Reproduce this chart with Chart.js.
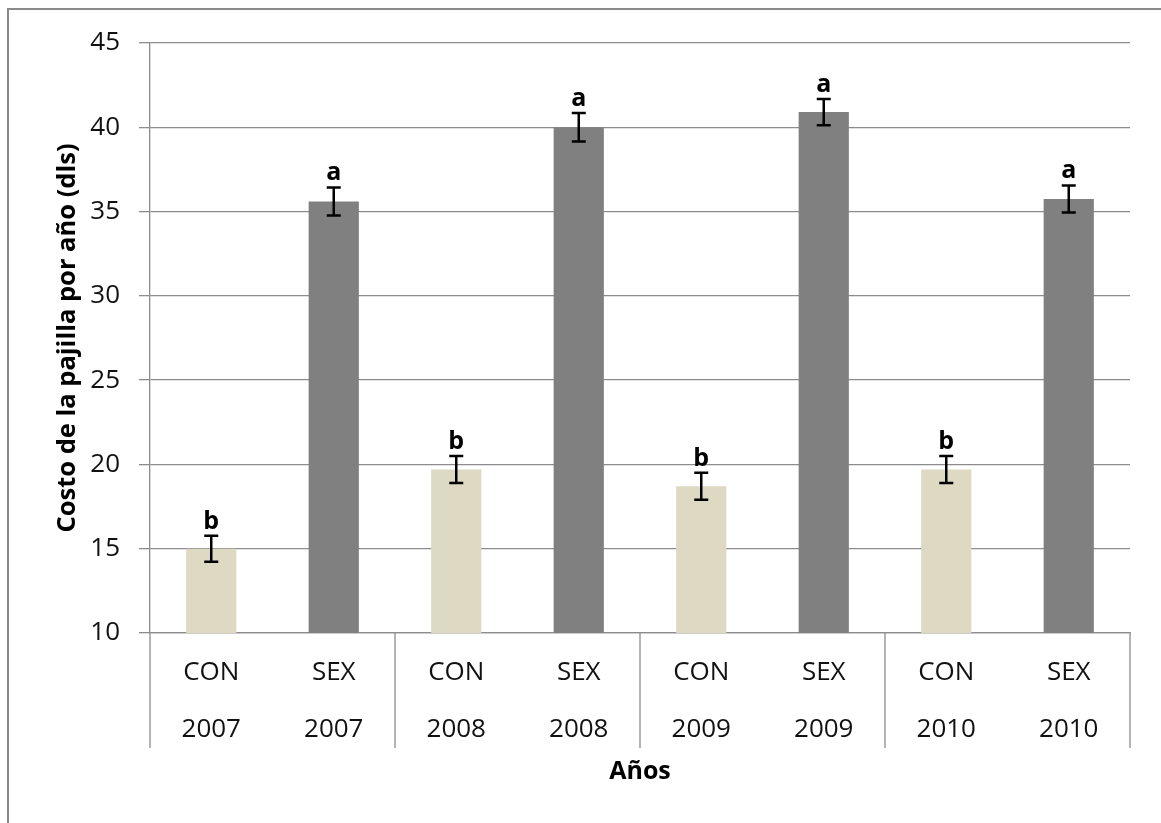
<!DOCTYPE html>
<html>
<head>
<meta charset="utf-8">
<script src="https://cdn.jsdelivr.net/npm/chart.js@4"></script>
<style>
  html, body { margin: 0; padding: 0; background: #fff; }
  #wrap { position: relative; width: 1161px; height: 823px; overflow: hidden; }
  #frame {
    position: absolute; left: 7px; top: 8px; right: -10px; bottom: -10px;
    border-left: 2px solid #8a8a8a; border-top: 2px solid #8a8a8a;
  }
  #chart { position: absolute; left: 0; top: 0; }
</style>
</head>
<body>
<div id="wrap">
  <div id="frame"></div>
  <canvas id="chart" width="1161" height="823"></canvas>
</div>
<script>
// Costo de la pajilla: convencional (CON) vs sexada (SEX), 2007-2010
const treatments = ['CON', 'SEX', 'CON', 'SEX', 'CON', 'SEX', 'CON', 'SEX'];
const years = ['2007', '2007', '2008', '2008', '2009', '2009', '2010', '2010'];
const costs = [15.0, 35.6, 19.7, 40.0, 18.7, 40.9, 19.7, 35.75];
const errors = [0.77, 0.83, 0.8, 0.85, 0.8, 0.78, 0.8, 0.8];
const letters = ['b', 'a', 'b', 'a', 'b', 'a', 'b', 'a'];
const yTicks = [10, 15, 20, 25, 30, 35, 40, 45];

const colorCON = '#ddd9c3';
const colorSEX = '#808080';
const lineGray = '#8c8c8c';
const FONT = "'Open Sans', sans-serif";

const labels = treatments.map((t, i) => [t, years[i]]);
const barColors = treatments.map(t => t === 'CON' ? colorCON : colorSEX);

// error bars, significance letters and year separators under the axis
const extrasPlugin = {
    id: 'extras',
    afterDatasetsDraw(chart) {
        const ctx = chart.ctx;
        const y = chart.scales.y;
        const x = chart.scales.x;
        const meta = chart.getDatasetMeta(0);
        ctx.save();
        ctx.strokeStyle = '#000';
        ctx.lineWidth = 2.5;
        meta.data.forEach((bar, i) => {
            const top = y.getPixelForValue(costs[i] + errors[i]);
            const bot = y.getPixelForValue(costs[i] - errors[i]);
            const cap = 7;
            ctx.beginPath();
            ctx.moveTo(bar.x, top);
            ctx.lineTo(bar.x, bot);
            ctx.moveTo(bar.x - cap, top);
            ctx.lineTo(bar.x + cap, top);
            ctx.moveTo(bar.x - cap, bot);
            ctx.lineTo(bar.x + cap, bot);
            ctx.stroke();

            ctx.fillStyle = '#000';
            ctx.font = 'bold 25px ' + FONT;
            ctx.textAlign = 'center';
            ctx.textBaseline = 'alphabetic';
            ctx.fillText(letters[i], bar.x, top - 7);
        });

        // group separators (one group per year)
        const step = x.getPixelForValue(1) - x.getPixelForValue(0);
        const bounds = [x.getPixelForValue(0) - step / 2];
        years.forEach((yr, i) => {
            if (i === years.length - 1 || years[i + 1] !== yr) {
                bounds.push(x.getPixelForValue(i) + step / 2);
            }
        });
        ctx.strokeStyle = lineGray;
        ctx.lineWidth = 1.3;
        bounds.forEach(bx => {
            ctx.beginPath();
            ctx.moveTo(bx, chart.chartArea.bottom);
            ctx.lineTo(bx, chart.chartArea.bottom + 115);
            ctx.stroke();
        });
        ctx.restore();
    }
};

new Chart(document.getElementById('chart'), {
    type: 'bar',
    data: {
        labels: labels,
        datasets: [{
            data: costs,
            backgroundColor: barColors,
            borderWidth: 0,
            barPercentage: 0.41,
            categoryPercentage: 1.0
        }]
    },
    options: {
        responsive: false,
        animation: false,
        layout: { padding: { left: 0, right: 31, top: 43, bottom: 0 } },
        plugins: {
            legend: { display: false },
            tooltip: { enabled: false }
        },
        scales: {
            x: {
                grid: { display: false, drawTicks: false },
                border: { display: true, color: lineGray, width: 1.3 },
                ticks: {
                    color: '#111',
                    font: { family: FONT, size: 26, lineHeight: 2.2 },
                    padding: 11,
                    maxRotation: 0,
                    autoSkip: false
                },
                title: {
                    display: true,
                    text: 'Años',
                    color: '#000',
                    font: { family: FONT, size: 25, weight: 'bold', lineHeight: 1.2 },
                    padding: { top: 0, bottom: 36 }
                },
                afterFit(scale) { scale.height = 190; }
            },
            y: {
                min: 10,
                max: 45,
                afterBuildTicks(scale) {
                    scale.ticks = yTicks.map(v => ({ value: v }));
                },
                grid: { color: lineGray, lineWidth: 1.3, tickLength: 11 },
                border: { display: true, color: lineGray, width: 1.3 },
                ticks: {
                    color: '#111',
                    font: { family: FONT, size: 26 },
                    padding: 19
                },
                title: {
                    display: true,
                    text: 'Costo de la pajilla por año (dls)',
                    color: '#000',
                    font: { family: FONT, size: 25.5, weight: 'bold', lineHeight: 1.2 },
                    padding: { top: 52, bottom: 0 }
                },
                afterFit(scale) { scale.width = 150; }
            }
        }
    },
    plugins: [extrasPlugin]
});
</script>
</body>
</html>
